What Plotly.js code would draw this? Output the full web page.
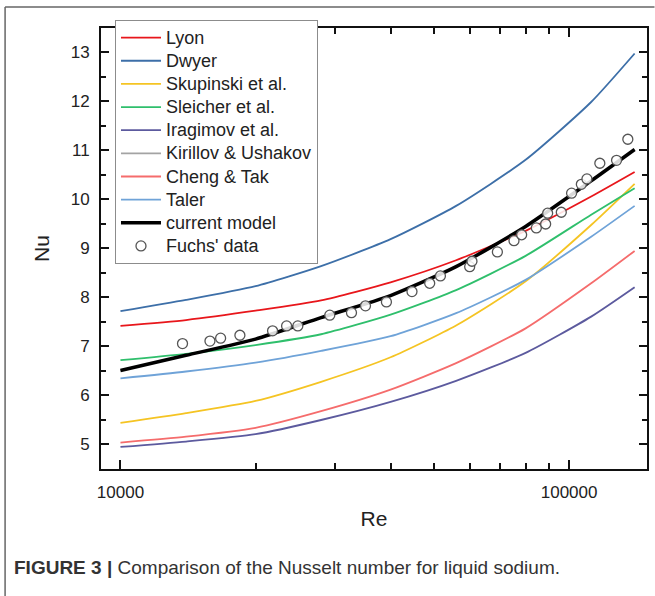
<!DOCTYPE html>
<html>
<head>
<meta charset="utf-8">
<script src="https://cdn.plot.ly/plotly-3.0.1.min.js"></script>
<style>
  html, body { margin: 0; padding: 0; background: #fff; }
  #chart { width: 655px; height: 596px; }
</style>
</head>
<body>
<div id="chart"></div>
<script>
// Reynolds numbers at which the correlation curves were read
const curveRe = [10000, 14000, 20000, 28000, 40000, 56000, 80000, 112000, 140000];

// Nusselt number for each correlation
const lyonNu      = [7.41, 7.53, 7.72, 7.93, 8.30, 8.75, 9.35, 10.05, 10.55];
const dwyerNu     = [7.71, 7.94, 8.22, 8.63, 9.18, 9.86, 10.80, 11.98, 12.97];
const skupinskiNu = [5.43, 5.63, 5.88, 6.27, 6.77, 7.42, 8.32, 9.47, 10.31];
const sleicherNu  = [6.71, 6.84, 7.02, 7.24, 7.64, 8.14, 8.84, 9.68, 10.22];
const iragimovNu  = [4.94, 5.05, 5.20, 5.49, 5.86, 6.29, 6.86, 7.60, 8.20];
const kirillovNu  = [6.50, 6.81, 7.14, 7.58, 8.03, 8.62, 9.44, 10.37, 11.01];
const chengTakNu  = [5.03, 5.15, 5.33, 5.67, 6.11, 6.65, 7.36, 8.28, 8.94];
const talerNu     = [6.34, 6.48, 6.66, 6.90, 7.20, 7.67, 8.35, 9.23, 9.86];
const currentNu   = [6.50, 6.81, 7.14, 7.58, 8.03, 8.62, 9.44, 10.37, 11.01];

// Fuchs' experimental data
const fuchsRe = [13750, 15830, 16720, 18460, 21830, 23460, 24850, 29280, 32730, 35170,
                 39160, 44650, 48900, 51660, 60040, 60750, 69210, 75370, 78390, 84530,
                 88670, 89580, 96080, 101300, 106500, 109600, 117100, 127600, 135200];
const fuchsNu = [7.05, 7.10, 7.16, 7.22, 7.31, 7.41, 7.41, 7.63, 7.68, 7.82,
                 7.90, 8.11, 8.28, 8.43, 8.62, 8.73, 8.92, 9.15, 9.27, 9.41,
                 9.49, 9.71, 9.73, 10.12, 10.30, 10.41, 10.73, 10.79, 11.22];

const seriesNames = ["Lyon", "Dwyer", "Skupinski et al.", "Sleicher et al.", "Iragimov et al.",
                     "Kirillov & Ushakov", "Cheng & Tak", "Taler", "current model", "Fuchs' data"];
const xTickVals = [10000, 100000];
const xTickText = ["10000", "100000"];
const xMinorVals = [20000, 30000, 40000, 50000, 60000, 70000, 80000, 90000];

const FONT = "Liberation Sans, Arial, Helvetica, sans-serif";
const legendName = n => '<span style="font-size:18px">' + n.replace("&", "&amp;") + '</span>';

function curve(name, y, color, width) {
  return {
    x: curveRe, y: y, name: legendName(name), type: "scatter", mode: "lines",
    line: { color: color, width: width, shape: "spline", smoothing: 0.6 },
    hoverinfo: "skip"
  };
}

const traces = [
  curve(seriesNames[0], lyonNu, "#e8161b", 1.8),
  curve(seriesNames[1], dwyerNu, "#3d6fa8", 1.8),
  curve(seriesNames[2], skupinskiNu, "#f5c423", 1.8),
  curve(seriesNames[3], sleicherNu, "#2fbf6c", 1.8),
  curve(seriesNames[4], iragimovNu, "#5c5a9e", 1.8),
  curve(seriesNames[5], kirillovNu, "#a3a3a3", 1.8),
  curve(seriesNames[6], chengTakNu, "#f56c6c", 1.8),
  curve(seriesNames[7], talerNu, "#6fa3d8", 1.8),
  curve(seriesNames[8], currentNu, "#000000", 3.5),
  {
    x: fuchsRe, y: fuchsNu, name: legendName(seriesNames[9]), type: "scatter", mode: "markers",
    marker: { symbol: "circle", size: 10, color: "rgba(255,255,255,0.85)",
              line: { color: "#555555", width: 1.3 } }
  },
  // placeholder trace (outside the visible range) so the minor-tick overlay axes are created
  { x: [20000], y: [20], xaxis: "x2", yaxis: "y2", type: "scatter", mode: "lines", showlegend: false, hoverinfo: "skip" }
];

// pixel helpers for paper coords (plot area 101..647.5 x, 28..469 y)
const PL = 101, PR = 647.5, PT = 28, PB = 469;
const px = v => (v - PL) / (PR - PL);
const py = v => (PB - v) / (PB - PT);
const XR = [3.9566, 5.1737], YR = [4.49, 13.49];
const AX = "#111111";

const layout = {
  width: 655, height: 596,
  margin: { l: PL, r: 655 - PR, t: PT, b: 596 - PB, pad: 0, autoexpand: false },
  paper_bgcolor: "#ffffff", plot_bgcolor: "#ffffff",
  font: { family: FONT, color: "#222222", size: 17 },
  showlegend: true,
  legend: {
    x: px(115), y: py(20), xanchor: "left", yanchor: "top",
    bgcolor: "#ffffff", bordercolor: "#8c8c8c", borderwidth: 1,
    font: { family: FONT, size: 15.5, color: "#222222" },
    itemwidth: 40, tracegroupgap: 0
  },
  xaxis: {
    type: "log", range: XR,
    tickmode: "array", tickvals: xTickVals, ticktext: xTickText,
    ticks: "inside", ticklen: 9, tickwidth: 2, tickcolor: AX,
    showline: true, linecolor: AX, linewidth: 2, mirror: "ticks",
    showgrid: false, zeroline: false,
    tickfont: { size: 17, family: FONT, color: "#222" },
    ticklabelstandoff: 7,
    title: { text: "Re", font: { size: 21, family: FONT, color: "#222" }, standoff: 10 }
  },
  xaxis2: {
    type: "log", range: XR, overlaying: "x", anchor: "y2", side: "bottom",
    tickmode: "array", tickvals: xMinorVals, showticklabels: false,
    ticks: "inside", ticklen: 6, tickwidth: 2, tickcolor: AX,
    showline: true, linecolor: AX, linewidth: 2, mirror: "ticks",
    showgrid: false, zeroline: false
  },
  yaxis: {
    range: YR, tickmode: "linear", tick0: 5, dtick: 1,
    ticks: "inside", ticklen: 8, tickwidth: 2, tickcolor: AX,
    showline: true, linecolor: AX, linewidth: 2, mirror: "ticks",
    showgrid: false, zeroline: false,
    tickfont: { size: 17, family: FONT, color: "#222" },
    ticklabelstandoff: 6,
    title: { text: "Nu", font: { size: 21, family: FONT, color: "#222" }, standoff: 15 }
  },
  yaxis2: {
    range: YR, overlaying: "y", anchor: "x2", side: "left",
    tickmode: "linear", tick0: 4.5, dtick: 1, showticklabels: false,
    ticks: "inside", ticklen: 5, tickwidth: 2, tickcolor: AX,
    showline: true, linecolor: AX, linewidth: 2, mirror: "ticks",
    showgrid: false, zeroline: false
  },
  shapes: [
    { type: "line", xref: "paper", yref: "paper", x0: px(5), x1: px(655), y0: py(7), y1: py(7),
      line: { color: "#666", width: 1.5 } },
    { type: "line", xref: "paper", yref: "paper", x0: px(5), x1: px(5), y0: py(7), y1: py(596),
      line: { color: "#666", width: 1.5 } }
  ],
  annotations: [
    { xref: "paper", yref: "paper", x: px(12), y: py(567), xanchor: "left", yanchor: "middle",
      showarrow: false, align: "left",
      text: "<b>FIGURE 3 |</b> Comparison of the Nusselt number for liquid sodium.",
      font: { family: FONT, size: 19, color: "#333" } }
  ]
};

Plotly.newPlot("chart", traces, layout, { staticPlot: true, displayModeBar: false });
</script>
</body>
</html>
